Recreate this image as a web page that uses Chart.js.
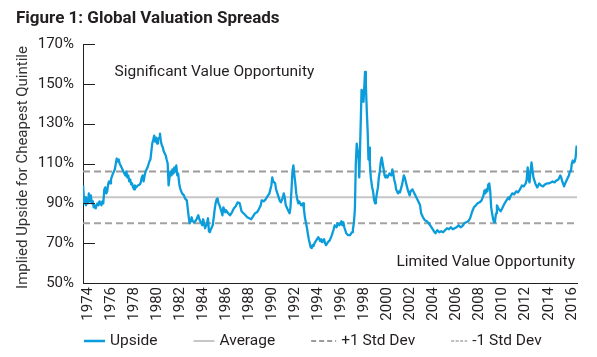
<!DOCTYPE html>
<html>
<head>
<meta charset="utf-8">
<script src="https://cdn.jsdelivr.net/npm/chart.js@4"></script>
<style>
  html, body { margin: 0; padding: 0; background: #ffffff; }
  #wrap { width: 597px; height: 357px; position: relative; }
</style>
</head>
<body>
<div id="wrap"><canvas id="c" width="597" height="357"></canvas></div>
<script>
// ---------- DATA ----------
const chartTitle = "Figure 1: Global Valuation Spreads";
const yAxisTitle = "Implied Upside for Cheapest Quintile";
const topNote = "Significant Value Opportunity";
const bottomNote = "Limited Value Opportunity";
const seriesNames = ["Upside", "Average", "+1 Std Dev", "-1 Std Dev"];

const yTickValues = [50, 70, 90, 110, 130, 150, 170];
const xTickYears = [1974, 1976, 1978, 1980, 1982, 1984, 1986, 1988, 1990, 1992, 1994, 1996, 1998, 2000, 2002, 2004, 2006, 2008, 2010, 2012, 2014, 2016];
const xRange = [1973.57, 2016.45];

const averageValue = 93;
const plusStdDevValue = 106;
const minusStdDevValue = 80;

const years = [
  1973.58, 1973.67, 1973.75, 1973.83, 1973.92, 1974.00, 1974.08, 1974.17, 1974.25, 1974.33,
  1974.42, 1974.50, 1974.58, 1974.67, 1974.75, 1974.83, 1974.92, 1975.00, 1975.08, 1975.17,
  1975.25, 1975.33, 1975.42, 1975.50, 1975.58, 1975.67, 1975.75, 1975.83, 1975.92, 1976.00,
  1976.17, 1976.33, 1976.42, 1976.50, 1976.58, 1976.67, 1976.75, 1976.92, 1977.08, 1977.25,
  1977.33, 1977.42, 1977.50, 1977.58, 1977.67, 1977.75, 1977.83, 1977.92, 1978.00, 1978.08,
  1978.17, 1978.33, 1978.50, 1978.58, 1978.67, 1978.75, 1978.83, 1978.92, 1979.00, 1979.17,
  1979.33, 1979.42, 1979.50, 1979.58, 1979.67, 1979.75, 1979.83, 1979.92, 1980.00, 1980.08,
  1980.17, 1980.25, 1980.33, 1980.42, 1980.50, 1980.58, 1980.67, 1980.75, 1980.83, 1980.92,
  1981.00, 1981.08, 1981.17, 1981.25, 1981.33, 1981.42, 1981.50, 1981.58, 1981.67, 1981.75,
  1981.83, 1981.92, 1982.00, 1982.17, 1982.33, 1982.42, 1982.58, 1982.67, 1982.75, 1982.83,
  1982.92, 1983.00, 1983.08, 1983.25, 1983.42, 1983.58, 1983.67, 1983.83, 1983.92, 1984.00,
  1984.08, 1984.17, 1984.25, 1984.33, 1984.42, 1984.50, 1984.58, 1984.67, 1984.75, 1984.83,
  1984.92, 1985.00, 1985.08, 1985.17, 1985.25, 1985.33, 1985.42, 1985.50, 1985.58, 1985.67,
  1985.75, 1985.83, 1985.92, 1986.00, 1986.17, 1986.33, 1986.50, 1986.67, 1986.83, 1987.00,
  1987.17, 1987.33, 1987.50, 1987.67, 1987.83, 1988.00, 1988.17, 1988.33, 1988.50, 1988.67,
  1988.83, 1989.00, 1989.08, 1989.25, 1989.42, 1989.58, 1989.75, 1989.92, 1990.00, 1990.08,
  1990.25, 1990.33, 1990.50, 1990.67, 1990.75, 1990.92, 1991.00, 1991.08, 1991.17, 1991.33,
  1991.50, 1991.58, 1991.67, 1991.75, 1991.83, 1991.92, 1992.00, 1992.08, 1992.17, 1992.25,
  1992.33, 1992.50, 1992.67, 1992.75, 1992.83, 1993.00, 1993.08, 1993.17, 1993.25, 1993.33,
  1993.42, 1993.50, 1993.58, 1993.67, 1993.83, 1994.00, 1994.17, 1994.25, 1994.33, 1994.50,
  1994.58, 1994.67, 1994.83, 1995.00, 1995.17, 1995.33, 1995.42, 1995.58, 1995.67, 1995.83,
  1996.00, 1996.08, 1996.17, 1996.25, 1996.42, 1996.58, 1996.75, 1996.92, 1997.00, 1997.08,
  1997.17, 1997.25, 1997.33, 1997.42, 1997.50, 1997.55, 1997.63, 1997.75, 1997.83, 1997.92,
  1998.00, 1998.05, 1998.12, 1998.20, 1998.28, 1998.35, 1998.40, 1998.47, 1998.55, 1998.67,
  1998.75, 1998.83, 1998.92, 1999.00, 1999.08, 1999.17, 1999.25, 1999.33, 1999.42, 1999.50,
  1999.58, 1999.67, 1999.75, 1999.83, 1999.92, 2000.00, 2000.17, 2000.33, 2000.42, 2000.50,
  2000.58, 2000.67, 2000.75, 2000.83, 2000.92, 2001.00, 2001.08, 2001.25, 2001.42, 2001.50,
  2001.58, 2001.75, 2001.92, 2002.00, 2002.17, 2002.33, 2002.50, 2002.67, 2002.83, 2002.92,
  2003.08, 2003.25, 2003.42, 2003.58, 2003.75, 2003.92, 2004.08, 2004.17, 2004.33, 2004.50,
  2004.67, 2004.83, 2005.00, 2005.17, 2005.33, 2005.50, 2005.67, 2005.83, 2006.00, 2006.17,
  2006.33, 2006.50, 2006.67, 2006.83, 2007.00, 2007.17, 2007.33, 2007.50, 2007.67, 2007.83,
  2008.00, 2008.17, 2008.33, 2008.42, 2008.50, 2008.58, 2008.67, 2008.75, 2008.83, 2008.92,
  2009.00, 2009.08, 2009.17, 2009.25, 2009.33, 2009.42, 2009.50, 2009.58, 2009.67, 2009.83,
  2009.92, 2010.00, 2010.17, 2010.33, 2010.50, 2010.58, 2010.67, 2010.83, 2011.00, 2011.17,
  2011.33, 2011.50, 2011.67, 2011.83, 2012.00, 2012.08, 2012.17, 2012.25, 2012.33, 2012.42,
  2012.50, 2012.58, 2012.67, 2012.83, 2013.00, 2013.17, 2013.33, 2013.50, 2013.67, 2013.83,
  2014.00, 2014.17, 2014.33, 2014.50, 2014.67, 2014.83, 2015.00, 2015.08, 2015.17, 2015.33,
  2015.42, 2015.58, 2015.75, 2015.83, 2015.92, 2016.00, 2016.08, 2016.17, 2016.25, 2016.33,
  2016.42
];

const upside = [
  99, 90, 93, 89, 92, 90, 95, 91, 94, 90,
  91, 88, 89, 87.5, 89, 90, 89, 91, 90, 89,
  91, 90, 97, 98, 95, 96, 99.5, 101, 100, 102,
  105, 107, 110, 112.5, 111, 112, 110, 108, 106, 104,
  106, 103, 104, 101, 102, 99.5, 100, 98, 97, 99,
  98, 99, 99.5, 100.5, 103, 104, 101, 104, 106, 108,
  111, 112, 116, 120, 122, 124, 121, 123, 120, 122,
  123, 125, 121, 119, 118, 116, 115, 114, 112, 110,
  99, 103, 106, 104, 107, 105, 108, 106, 109, 104,
  105, 100, 97.5, 95, 94, 92.5, 91.5, 87, 83, 80,
  81, 83, 81, 80.5, 82, 84, 82, 80, 79, 82,
  80, 77.5, 79, 80, 82.5, 76, 75.5, 77, 78, 79,
  83, 87, 90, 92, 92.5, 90, 89, 87.5, 86, 84,
  88, 87, 85.5, 86.5, 85, 84, 85.5, 87.5, 88.5, 90.5,
  90, 86, 85, 84, 83, 82.5, 82, 83.5, 85, 85.5,
  87, 89, 91.5, 91, 92, 93.5, 95, 99, 103, 101,
  100, 97, 94, 91, 90.5, 93, 95, 93, 89, 87,
  85, 88, 97, 106, 109, 104, 100, 95, 92, 90,
  91, 89, 90, 87, 83, 78, 75, 72, 70, 68,
  67.5, 69, 68.5, 70, 71.5, 73, 71, 72, 70.5, 72,
  70, 69, 70.5, 71.5, 74, 77, 79, 78, 80, 79,
  81, 79, 80.5, 78, 75, 74, 74, 75.5, 77, 80,
  87, 110, 120, 116, 112, 103, 120, 147, 146, 141,
  150, 156, 150, 137, 126, 112, 118, 110, 103, 98,
  96, 92, 90, 92, 95, 98, 103, 106, 111, 113,
  110, 107, 104, 103, 104, 103, 105, 104, 107, 105,
  102, 100, 97, 96, 95, 96, 95.5, 99, 104, 103,
  101, 97, 94, 96, 97, 95, 93, 91, 89, 85,
  83, 81.5, 81, 80, 78.5, 77, 75.5, 75, 76.5, 75.5,
  76, 75.5, 76.5, 77.5, 77, 78, 77, 77.5, 78, 79,
  78, 78.5, 80, 80.5, 81, 82.5, 85.5, 88, 89, 90,
  90.5, 91.5, 94, 96.5, 95, 97, 96, 99.5, 100, 96,
  88, 85, 82, 80.5, 81, 85, 89, 88, 87, 86,
  87, 88, 90, 91.5, 93, 92, 93.5, 95, 94.5, 96,
  95.5, 97, 99, 98.5, 100, 102, 108, 102, 100.5, 106,
  110.5, 107, 103, 100, 98, 100, 99, 98.5, 99.5, 100,
  100, 100.5, 101, 100.5, 101.5, 102, 104, 103, 101, 98.5,
  100, 102, 104, 106, 106, 110, 111.5, 110.5, 111, 113,
  119
];

// ---------- STYLE ----------
const FONT = "Roboto, 'Liberation Sans', sans-serif";
const TEXT = "#231f20";

const seriesStyles = [
  { color: "#0a9cdb", width: 2.3, dash: [], legendDash: [], legendLen: 21 },
  { color: "#c6c6c6", width: 2, dash: [], legendDash: [], legendLen: 21 },
  { color: "#9b9b9b", width: 2, dash: [7, 4], legendDash: [5, 3], legendLen: 25 },
  { color: "#a3a3a3", width: 2, dash: [7, 4], legendDash: [3, 1.5], legendLen: 16, legendColor: "#bdbdbd" }
];

function flat(v) { return [{ x: xRange[0], y: v }, { x: xRange[1], y: v }]; }

const datasets = [
  { label: seriesNames[0], data: years.map((yr, i) => ({ x: yr, y: upside[i] })) },
  { label: seriesNames[1], data: flat(averageValue) },
  { label: seriesNames[2], data: flat(plusStdDevValue) },
  { label: seriesNames[3], data: flat(minusStdDevValue) }
].map((d, i) => Object.assign(d, {
  borderColor: seriesStyles[i].color,
  backgroundColor: seriesStyles[i].color,
  borderWidth: seriesStyles[i].width,
  borderDash: seriesStyles[i].dash,
  pointRadius: 0,
  tension: 0,
  fill: false,
  borderJoinStyle: "round"
}));

const decorPlugin = {
  id: "decor",
  afterDraw(chart) {
    const ctx = chart.ctx;
    const xs = chart.scales.x, ys = chart.scales.y;
    const area = chart.chartArea;
    ctx.save();
    // inner tick marks on y axis
    ctx.strokeStyle = TEXT;
    ctx.lineWidth = 1;
    yTickValues.forEach(v => {
      if (v === yTickValues[0]) return;
      const py = Math.round(ys.getPixelForValue(v)) + 0.5;
      ctx.beginPath();
      ctx.moveTo(area.left, py);
      ctx.lineTo(area.left + 12, py);
      ctx.stroke();
    });
    // title
    ctx.fillStyle = TEXT;
    ctx.font = "bold 17px " + FONT;
    ctx.textAlign = "left";
    ctx.textBaseline = "alphabetic";
    ctx.fillText(chartTitle, 16, 23);
    // y axis title
    ctx.save();
    ctx.translate(27, (area.top + area.bottom) / 2 + 4);
    ctx.rotate(-Math.PI / 2);
    ctx.font = "15px " + FONT;
    ctx.fillStyle = "#333333";
    ctx.textAlign = "center";
    ctx.textBaseline = "alphabetic";
    ctx.fillText(yAxisTitle, 0, 0);
    ctx.restore();
    // region notes
    ctx.font = "15.5px " + FONT;
    ctx.fillStyle = TEXT;
    ctx.textBaseline = "middle";
    ctx.textAlign = "left";
    ctx.fillText(topNote, xs.getPixelForValue(1976.3), ys.getPixelForValue(156));
    ctx.textAlign = "right";
    ctx.fillText(bottomNote, area.right - 2, ys.getPixelForValue(60.5));
    // legend
    let lx = 84;
    const ly = 341;
    ctx.textAlign = "left";
    ctx.textBaseline = "middle";
    ctx.font = "15.5px " + FONT;
    chart.data.datasets.forEach((ds, i) => {
      const st = seriesStyles[i];
      ctx.save();
      ctx.strokeStyle = st.legendColor || ds.borderColor;
      ctx.lineWidth = i === 0 ? 2.5 : 2;
      ctx.setLineDash(st.legendDash);
      ctx.beginPath();
      ctx.moveTo(lx, ly);
      ctx.lineTo(lx + st.legendLen, ly);
      ctx.stroke();
      ctx.restore();
      lx += st.legendLen + 5;
      ctx.fillStyle = TEXT;
      ctx.fillText(ds.label, lx, ly);
      lx += ctx.measureText(ds.label).width + 36;
    });
    ctx.restore();
  }
};

new Chart(document.getElementById("c"), {
  type: "line",
  data: { datasets },
  options: {
    responsive: false,
    animation: false,
    events: [],
    layout: { padding: { top: 44, left: 0, right: 20, bottom: 36 } },
    plugins: { legend: { display: false }, title: { display: false }, tooltip: { enabled: false } },
    scales: {
      x: {
        type: "linear",
        min: xRange[0],
        max: xRange[1],
        afterBuildTicks: s => { s.ticks = xTickYears.map(v => ({ value: v })); },
        afterFit: s => { s.height = 38; },
        grid: { display: true, drawOnChartArea: false, drawTicks: false },
        border: { display: true, color: "#231f20", width: 1 },
        ticks: {
          autoSkip: false,
          maxRotation: 90,
          minRotation: 90,
          padding: 4,
          color: TEXT,
          font: { family: FONT, size: 15 },
          callback: v => String(v)
        }
      },
      y: {
        min: yTickValues[0],
        max: yTickValues[yTickValues.length - 1],
        afterBuildTicks: s => { s.ticks = yTickValues.map(v => ({ value: v })); },
        afterFit: s => { s.width = 83; },
        grid: { display: true, drawOnChartArea: false, drawTicks: false },
        border: { display: true, color: "#231f20", width: 1 },
        ticks: {
          padding: 9,
          color: TEXT,
          font: { family: FONT, size: 15 },
          callback: v => v + "%"
        }
      }
    }
  },
  plugins: [decorPlugin]
});
</script>
</body>
</html>
